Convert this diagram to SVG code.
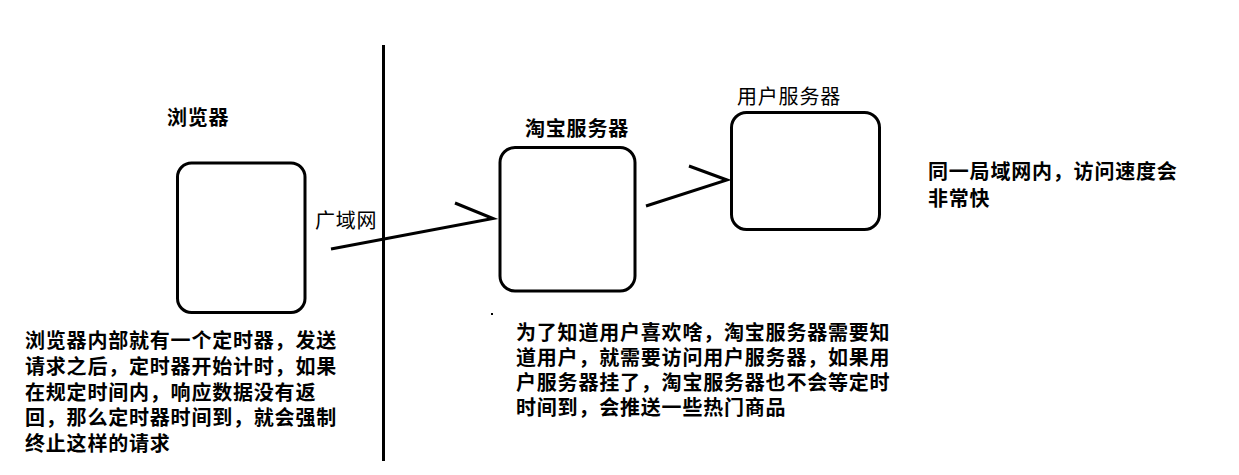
<svg xmlns="http://www.w3.org/2000/svg" width="1239" height="475" viewBox="0 0 1239 475">
<style>
.box{fill:none;stroke:#000;stroke-width:3}
.ln{fill:none;stroke:#000;stroke-width:3;stroke-linecap:butt;stroke-linejoin:miter}
text{font-family:"Liberation Sans","Noto Sans CJK SC",sans-serif;font-size:20px;fill:#000;letter-spacing:0.8px}
.b{font-weight:700}
.n{font-weight:400}
</style>
<rect width="1239" height="475" fill="#fff"/>
<line x1="383.5" y1="45" x2="383.5" y2="461" class="ln"/>
<g id="browser">
<rect class="box" x="177.5" y="163" width="127.5" height="149.5" rx="14"/>
<text class="b" x="167" y="125">浏览器</text>
</g>
<g id="taobao">
<rect class="box" x="500" y="147.5" width="135" height="143.5" rx="15"/>
<text class="b" x="525" y="136">淘宝服务器</text>
</g>
<g id="user">
<rect class="box" x="731.5" y="112.5" width="148" height="117" rx="15"/>
<text class="n" x="737" y="104">用户服务器</text>
</g>
<g id="connectors">
<polyline class="ln" points="331,249 493,218.5 455,203"/>
<polyline class="ln" points="646,206 727,180 689,166"/>
<text class="n" x="315" y="228">广域网</text>
</g>
<rect x="491" y="313" width="2" height="2" fill="#000"/>
<g id="note-browser">
<text class="b" x="25" y="348">浏览器内部就有一个定时器，发送</text>
<text class="b" x="25" y="374">请求之后，定时器开始计时，如果</text>
<text class="b" x="25" y="400">在规定时间内，响应数据没有返</text>
<text class="b" x="25" y="425">回，那么定时器时间到，就会强制</text>
<text class="b" x="25" y="451">终止这样的请求</text>
</g>
<g id="note-taobao">
<text class="b" x="516" y="340">为了知道用户喜欢啥，淘宝服务器需要知</text>
<text class="b" x="516" y="365">道用户，就需要访问用户服务器，如果用</text>
<text class="b" x="516" y="390">户服务器挂了，淘宝服务器也不会等定时</text>
<text class="b" x="516" y="415">时间到，会推送一些热门商品</text>
</g>
<g id="note-lan">
<text class="b" x="928" y="179">同一局域网内，访问速度会</text>
<text class="b" x="928" y="206">非常快</text>
</g>
</svg>
